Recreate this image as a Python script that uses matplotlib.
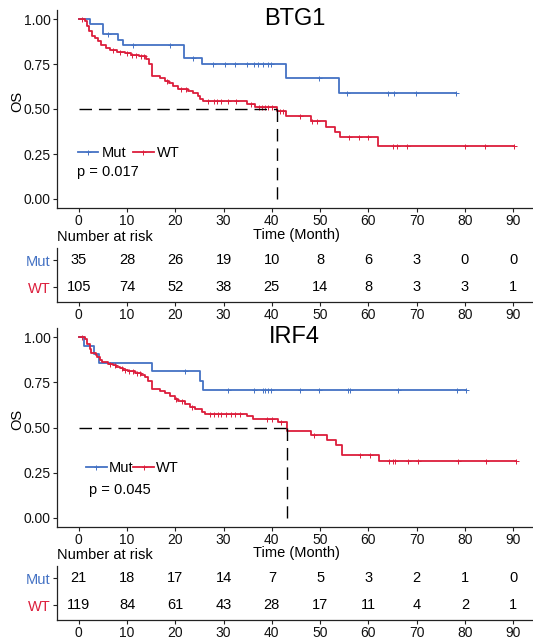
import numpy as np
import matplotlib
matplotlib.use("Agg")
import matplotlib.pyplot as plt
from matplotlib.lines import Line2D

plt.rcParams['font.family'] = ['Liberation Sans', 'DejaVu Sans']

# ---------------- data ----------------
groups = ["Mut", "WT"]
risk_times = [0, 10, 20, 30, 40, 50, 60, 70, 80, 90]
x_ticks = [0, 10, 20, 30, 40, 50, 60, 70, 80, 90]
y_ticks = [0.0, 0.25, 0.5, 0.75, 1.0]
y_tick_labels = ["0.00", "0.25", "0.50", "0.75", "1.00"]

# BTG1
btg1_mut_t = [0, 2.3, 5.0, 8.2, 9.2, 21.9, 25.6, 42.9, 54.0]
btg1_mut_s = [1.0, 0.971, 0.914, 0.886, 0.857, 0.786, 0.750, 0.675, 0.590]
btg1_mut_c = [6.1, 11.3, 18.9, 23.7, 27.9, 30.3, 32.4, 34.8, 36.2, 37.2, 38.2, 39.3,
              39.8, 49.7, 55.5, 64.0, 65.4, 69.9, 78.1]
btg1_wt_t = [0, 1.4, 1.7, 2.2, 2.7, 3.3, 4.0, 4.6, 5.6, 6.5, 8.0, 9.5, 10.8, 12.5,
             14.0, 14.6, 15.1, 16.9, 17.8, 18.7, 19.6, 20.5, 22.7, 23.7, 24.6, 25.1,
             25.8, 34.9, 36.6, 41.1, 42.9, 48.1, 51.2, 53.1, 54.1, 61.9]
btg1_wt_s = [1.0, 0.990, 0.962, 0.933, 0.905, 0.895, 0.876, 0.857, 0.838, 0.829,
             0.819, 0.810, 0.800, 0.795, 0.780, 0.750, 0.685, 0.672, 0.657, 0.642,
             0.626, 0.611, 0.600, 0.587, 0.572, 0.558, 0.544, 0.528, 0.513, 0.487,
             0.461, 0.436, 0.402, 0.374, 0.346, 0.294]
btg1_wt_c = [0.7, 7.2, 8.6, 9.9, 11.0, 11.9, 12.8, 13.5, 18.2, 21.2, 22.2, 26.8, 28.0,
             28.6, 29.4, 30.9, 32.5, 35.6, 37.4, 37.9, 38.5, 39.2, 40.0, 41.7, 42.3,
             45.9, 48.3, 49.3, 55.9, 58.0, 59.9, 65.1, 66.0, 68.0, 80.1, 84.2, 90.2]
btg1_risk_mut = [35, 28, 26, 19, 10, 8, 6, 3, 0, 0]
btg1_risk_wt = [105, 74, 52, 38, 25, 14, 8, 3, 3, 1]
btg1_p = "p = 0.017"

# IRF4
irf4_mut_t = [0, 1.0, 3.2, 4.2, 15.1, 25.1, 25.7]
irf4_mut_s = [1.0, 0.952, 0.905, 0.857, 0.810, 0.759, 0.709]
irf4_mut_c = [22.0, 31.0, 36.2, 38.2, 38.5, 39.3, 39.8, 45.9, 49.8, 55.7, 56.1,
              66.2, 78.4, 80.3]
irf4_wt_t = [0, 1.2, 1.7, 2.3, 2.6, 3.5, 3.7, 4.4, 4.9, 6.1, 7.1, 7.8, 8.5, 9.2,
             10.2, 11.6, 13.0, 13.7, 14.4, 15.1, 16.8, 17.8, 18.9, 19.9, 20.6, 22.0,
             23.0, 24.1, 25.5, 26.1, 34.8, 36.0, 41.3, 43.1, 48.1, 51.4, 53.3, 54.5, 62.1]
irf4_wt_s = [1.0, 0.990, 0.961, 0.935, 0.912, 0.902, 0.888, 0.871, 0.860, 0.853,
             0.845, 0.836, 0.828, 0.819, 0.810, 0.801, 0.792, 0.777, 0.759, 0.714,
             0.703, 0.690, 0.672, 0.659, 0.645, 0.630, 0.613, 0.602, 0.586, 0.575,
             0.562, 0.548, 0.529, 0.482, 0.459, 0.433, 0.405, 0.350, 0.316]
irf4_wt_c = [0.6, 6.5, 7.5, 9.0, 9.6, 10.5, 11.2, 12.0, 12.6, 20.2, 21.3, 23.5, 27.2,
             28.0, 28.8, 29.5, 30.4, 31.5, 32.3, 33.4, 38.9, 40.0, 41.8, 48.8, 58.2,
             60.4, 64.2, 65.1, 65.6, 68.3, 70.2, 78.5, 84.4, 90.5]
irf4_risk_mut = [21, 18, 17, 14, 7, 5, 3, 2, 1, 0]
irf4_risk_wt = [119, 84, 61, 43, 28, 17, 11, 4, 2, 1]
irf4_p = "p = 0.045"

COL = {"Mut": "#4472C4", "WT": "#DC1E3C"}

# ---------------- figure ----------------
W, H = 533, 642
fig = plt.figure(figsize=(W / 100, H / 100), dpi=100)


def box(l, t, r, b):
    return [l / W, 1 - b / H, (r - l) / W, (b - t) / H]


def style_axes(ax):
    for s in ["top", "right"]:
        ax.spines[s].set_visible(False)
    for s in ["left", "bottom"]:
        ax.spines[s].set_linewidth(0.9)
        ax.spines[s].set_color("#222222")
    ax.tick_params(axis="both", length=3, width=0.8, color="#222222",
                   labelsize=10, pad=1.5, labelcolor="#111111")
    ax.set_xlim(-4.5, 94.5)
    ax.set_xticks(x_ticks)


def step_curve(ax, t, s, c, color):
    end = max(max(t), max(c))
    tt = list(t) + [end]
    ss = list(s) + [s[-1]]
    ax.step(tt, ss, where="post", color=color, lw=1.3, zorder=3)
    idx = np.searchsorted(np.array(t), np.array(c), side="right") - 1
    cy = np.array(s)[idx]
    ax.plot(c, cy, ls="none", marker="+", ms=3.6, mew=0.7, color=color, zorder=4)


def km_panel(rect, title, curves, ptxt, leg_xy, p_xy, compact):
    ax = fig.add_axes(box(*rect))
    style_axes(ax)
    ax.set_ylim(-0.05, 1.05)
    ax.set_yticks(y_ticks)
    ax.set_yticklabels(y_tick_labels)
    for g, (t, s, c) in zip(groups, curves):
        step_curve(ax, t, s, c, COL[g])
    # median line from the WT curve
    wt_t, wt_s, _ = curves[1]
    med = [tt for tt, ss in zip(wt_t, wt_s) if ss <= 0.5][0]
    ax.plot([0, med], [0.5, 0.5], color="black", lw=1.0, dashes=(9, 5), zorder=5)
    ax.plot([med, med], [0.5, 0.0], color="black", lw=1.0, dashes=(9, 5), zorder=5)
    ax.text(0.497, 0.955, title, transform=ax.transAxes, ha="center", va="center",
            fontsize=17, color="black")
    ax.text(-0.084, 0.54, "OS", transform=ax.transAxes, rotation=90,
            ha="center", va="center", fontsize=10.5)
    handles = [Line2D([], [], color=COL[g], lw=1.3, marker="+", ms=3.6, mew=0.7)
               for g in groups]
    ax.legend(handles, groups, ncol=2, frameon=False, loc="center left",
              bbox_to_anchor=leg_xy, fontsize=10.5, handlelength=1.4,
              handletextpad=0.15 if compact else 0.2,
              columnspacing=0.0 if compact else 0.5, borderaxespad=0, borderpad=0)
    ax.text(p_xy[0], p_xy[1], ptxt, transform=ax.transAxes, ha="left", va="center",
            fontsize=10.5)
    return ax


def risk_panel(rect, risk_mut, risk_wt, head_y):
    ax = fig.add_axes(box(*rect))
    style_axes(ax)
    ax.set_ylim(0.45, 2.45)
    ax.set_yticks([2, 1])
    ax.set_yticklabels(groups)
    for lab, g in zip(ax.get_yticklabels(), groups):
        lab.set_color(COL[g])
        lab.set_fontsize(10.5)
    for tm, n1, n2 in zip(risk_times, risk_mut, risk_wt):
        ax.text(tm, 2, str(n1), ha="center", va="center", fontsize=10.5)
        ax.text(tm, 1, str(n2), ha="center", va="center", fontsize=10.5)
    fig.text(57 / W, 1 - head_y / H, "Number at risk", ha="left", va="center",
             fontsize=10.5)
    fig.text(296 / W, 1 - (head_y - 2) / H, "Time (Month)", ha="center",
             va="center", fontsize=10.5)
    return ax


km_panel((57, 10, 535, 208), "BTG1",
         [(btg1_mut_t, btg1_mut_s, btg1_mut_c), (btg1_wt_t, btg1_wt_s, btg1_wt_c)],
         btg1_p, (0.044, 0.278), (0.042, 0.183), False)
risk_panel((57, 248, 535, 302), btg1_risk_mut, btg1_risk_wt, 237)

km_panel((57, 328, 535, 527), "IRF4",
         [(irf4_mut_t, irf4_mut_s, irf4_mut_c), (irf4_wt_t, irf4_wt_s, irf4_wt_c)],
         irf4_p, (0.061, 0.295), (0.067, 0.186), True)
risk_panel((57, 566, 535, 620), irf4_risk_mut, irf4_risk_wt, 555)

fig.savefig("out.png", dpi=100)
